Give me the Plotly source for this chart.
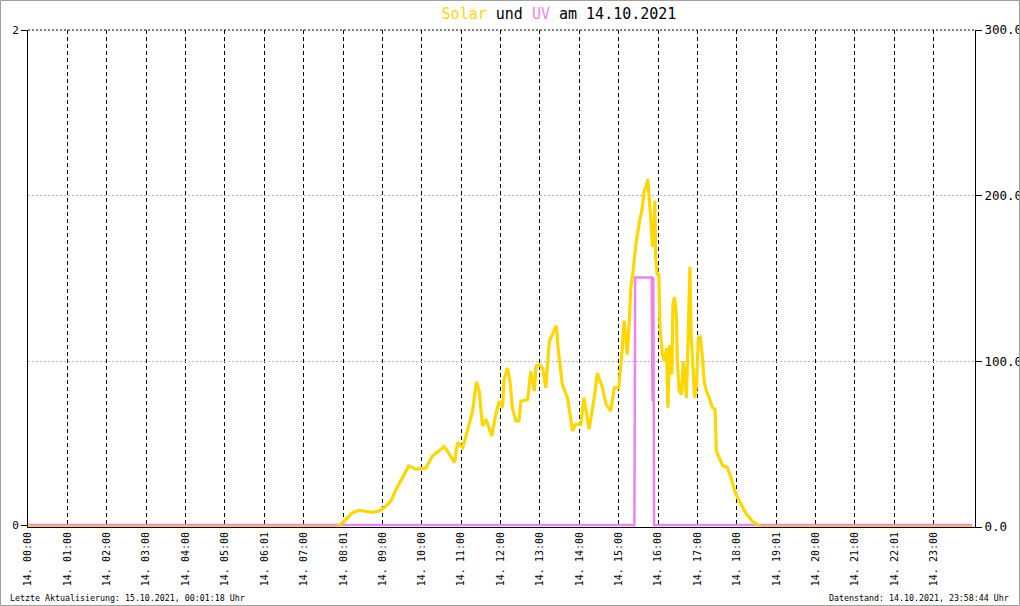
import plotly.graph_objects as go

# ---- data ----
solar_hours = [0, 7.85, 7.99, 8.1, 8.24, 8.41, 8.6, 8.75, 8.92, 9.05, 9.22, 9.35, 9.51, 9.67, 9.85,
               10.1, 10.27, 10.44, 10.57, 10.7, 10.83, 10.91, 11.04, 11.16, 11.29, 11.39, 11.46,
               11.54, 11.63, 11.78, 11.88, 11.97, 12.05, 12.09, 12.18, 12.24, 12.3, 12.39, 12.47,
               12.52, 12.69, 12.77, 12.86, 12.9, 12.98, 13.07, 13.15, 13.24, 13.32, 13.42, 13.47,
               13.57, 13.7, 13.83, 13.91, 14.04, 14.12, 14.25, 14.38, 14.46, 14.59, 14.68, 14.8,
               14.89, 15.0, 15.08, 15.14, 15.18, 15.22, 15.27, 15.31, 15.37, 15.44, 15.52, 15.59,
               15.65, 15.69, 15.74, 15.78, 15.82, 15.86, 15.9, 15.92, 15.94, 15.98, 16.02, 16.05,
               16.11, 16.17, 16.22, 16.25, 16.3, 16.35, 16.38, 16.42, 16.47, 16.49, 16.54, 16.6,
               16.64, 16.69, 16.72, 16.76, 16.81, 16.84, 16.89, 16.93, 16.98, 17.02, 17.07, 17.13,
               17.17, 17.23, 17.3, 17.38, 17.45, 17.48, 17.55, 17.64, 17.76, 17.85, 17.97, 18.1,
               18.22, 18.39, 18.56, 18.62, 23.98]
solar_values = [0, 0, 2.6, 5, 8.6, 10.1, 9.5, 8.9, 9.7, 11.7, 15.7, 22.8, 29.8, 36.9, 34.9,
                35.5, 42.9, 46, 48.6, 44, 38.9, 51, 48, 58, 70, 87.7, 82,
                61, 65, 55, 68, 76, 72, 89, 96, 88, 72, 64, 64,
                76, 77, 94, 82, 97, 98, 96, 84, 112, 116.5, 121.6, 106,
                86, 78, 58, 62, 62, 78, 59, 78, 93, 84, 74, 70,
                84, 84, 104, 124.6, 112, 104, 124.6, 144.7, 155, 171, 183, 191,
                203, 205, 210, 199, 185, 169, 181, 197, 163, 152, 153, 120.5,
                104, 100, 108, 72, 110, 92, 134.7, 138.7, 126.6, 100, 82, 80,
                100, 88, 78, 110, 157, 116.5, 98, 78, 86, 112.5, 115.5, 102,
                88, 82, 78, 72, 71, 46, 42, 37, 36, 30, 20, 14,
                8.7, 3.6, 0.6, 0, 0]

uv_hours = [0, 15.40, 15.42, 15.84, 15.86, 15.88, 15.90, 23.98]
uv_values = [0, 0, 1, 1, 0.5, 1, 0, 0]

tick_hours = [0, 1, 2, 3, 4, 5, 6 + 1/60, 7, 8 + 1/60, 9, 10, 11, 12, 13, 14, 15, 16, 17, 18,
              19 + 1/60, 20, 21, 22 + 1/60, 23]
tick_labels = ["14. 00:00", "14. 01:00", "14. 02:00", "14. 03:00", "14. 04:00", "14. 05:00",
               "14. 06:01", "14. 07:00", "14. 08:01", "14. 09:00", "14. 10:00", "14. 11:00",
               "14. 12:00", "14. 13:00", "14. 14:00", "14. 15:00", "14. 16:00", "14. 17:00",
               "14. 18:00", "14. 19:01", "14. 20:00", "14. 21:00", "14. 22:01", "14. 23:00"]

solar_ticks = [0, 100, 200, 300]
uv_ticks = [0, 2]

FONT = "DejaVu Sans Mono"
SOLAR_C = "#FFD700"
UV_C = "#EE82EE"

W, H = 1020, 606
L, R, T, B = 28, 45, 30, 79
PW, PH = W - L - R, H - T - B


def px(x):
    return (x - L) / PW


def py(y):
    return (H - B - y) / PH


fig = go.Figure()
fig.add_trace(go.Scatter(x=solar_hours, y=solar_values, mode="lines", yaxis="y2",
                         line=dict(color=SOLAR_C, width=3.2), name="Solar", hoverinfo="skip"))
fig.add_trace(go.Scatter(x=uv_hours, y=uv_values, mode="lines", yaxis="y",
                         line=dict(color=UV_C, width=2.5), name="UV", hoverinfo="skip"))

fig.update_layout(
    width=W, height=H,
    margin=dict(l=L, r=R, t=T, b=B, autoexpand=False),
    paper_bgcolor="white", plot_bgcolor="white",
    showlegend=False,
    font=dict(family=FONT, color="black"),
    title=dict(
        text=f"<span style='color:{SOLAR_C}'>Solar</span> und <span style='color:{UV_C}'>UV</span> am 14.10.2021",
        x=559 / W, xref="container", xanchor="center",
        y=1 - 14 / H, yref="container", yanchor="middle",
        font=dict(family=FONT, size=15, color="black"),
    ),
    xaxis=dict(
        range=[0, 24.05], tickmode="array", tickvals=tick_hours, ticktext=tick_labels,
        tickangle=-90, tickfont=dict(family=FONT, size=10),
        showgrid=True, gridcolor="black", gridwidth=1, griddash="4px,3px",
        showline=True, linecolor="black", linewidth=1, ticks="",
        zeroline=False, fixedrange=True, automargin=False,
    ),
    yaxis=dict(
        range=[-4 / 496, 2], tickmode="array", tickvals=uv_ticks, ticktext=["0", "2"],
        tickfont=dict(family=FONT, size=11),
        showgrid=False, zeroline=False,
        showline=True, linecolor="black", linewidth=1,
        ticks="outside", ticklen=6, tickcolor="black", automargin=False,
    ),
    yaxis2=dict(
        range=[0, 300], overlaying="y", side="right", tickmode="array",
        tickvals=solar_ticks, ticktext=["0.0", "100.0", "200.0", "300.0"],
        tickfont=dict(family=FONT, size=12.5),
        showgrid=True, gridcolor="#BBBBBB", gridwidth=1, griddash="2px,2px",
        zeroline=False, showline=True, linecolor="black", linewidth=1,
        ticks="outside", ticklen=6, tickcolor="black", automargin=False,
    ),
    shapes=[
        dict(type="line", xref="paper", yref="paper", x0=0, x1=1, y0=1, y1=1,
             line=dict(color="black", width=1, dash="2px,2px"), layer="above"),
        dict(type="rect", xref="paper", yref="paper",
             x0=px(0.5), x1=px(W - 0.5), y0=py(H - 0.5), y1=py(0.5),
             line=dict(color="#A0A0A0", width=1), fillcolor="rgba(0,0,0,0)", layer="above"),
    ],
    annotations=[
        dict(text="Letzte Aktualisierung: 15.10.2021, 00:01:18 Uhr", xref="paper", yref="paper",
             x=px(8), y=py(598), xanchor="left", yanchor="middle", showarrow=False,
             font=dict(family=FONT, size=8.3, color="black")),
        dict(text="Datenstand: 14.10.2021, 23:58:44 Uhr", xref="paper", yref="paper",
             x=px(1011), y=py(598), xanchor="right", yanchor="middle", showarrow=False,
             font=dict(family=FONT, size=8.3, color="black")),
    ],
)

fig.write_html("out.html", config={"displayModeBar": False},
               post_script="document.body.style.margin='0';document.body.style.overflow='hidden';")
